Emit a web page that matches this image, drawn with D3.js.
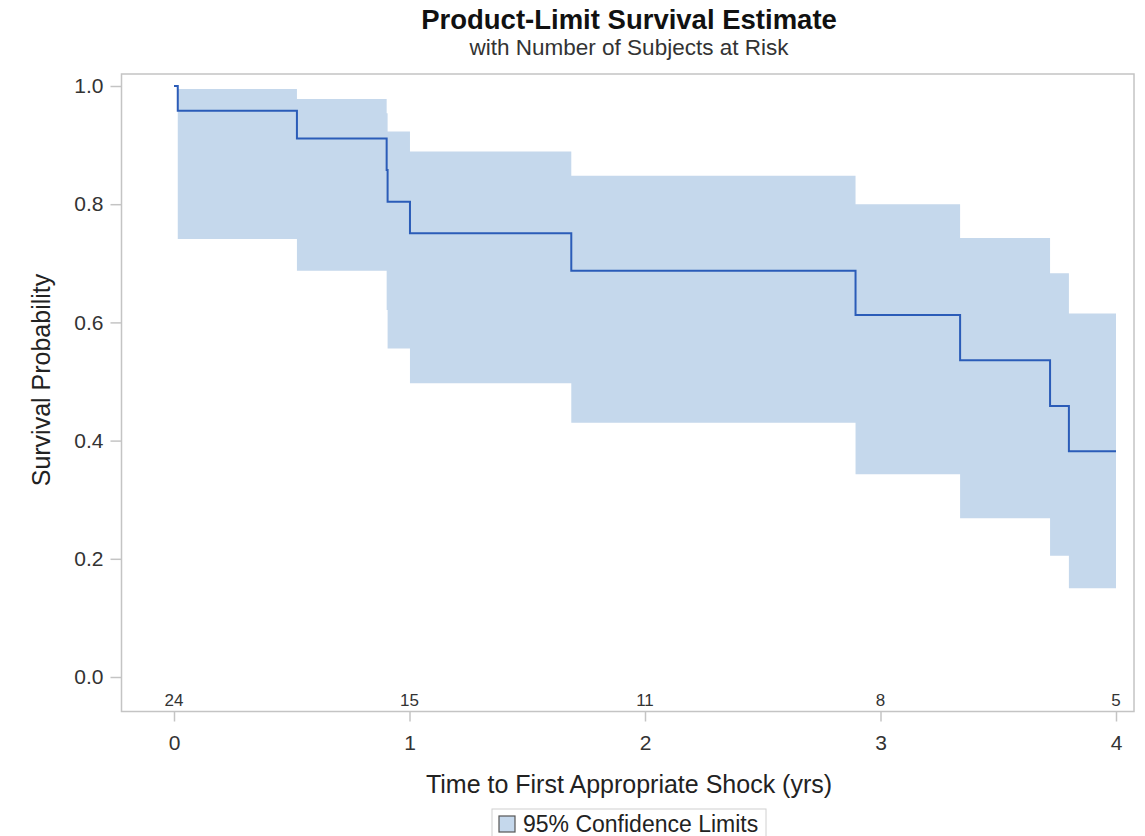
<!DOCTYPE html>
<html>
<head>
<meta charset="utf-8">
<script src="https://cdn.jsdelivr.net/npm/d3@7"></script>
<style>
  html, body { margin: 0; padding: 0; background: #fff; }
  svg { display: block; font-family: "Liberation Sans", Arial, sans-serif; }
</style>
</head>
<body>
<div id="chart"></div>
<script>
// Kaplan-Meier steps
const times = [0, 0.016, 0.522, 0.903, 0.907, 1.002, 1.687, 2.894, 3.338, 3.720, 3.800, 4.0];
const survival = [1.0, 0.958, 0.911, 0.858, 0.804, 0.751, 0.6875, 0.6125, 0.536, 0.4585, 0.382, 0.382];
const upperCL = [null, 0.995, 0.978, 0.954, 0.923, 0.889, 0.848, 0.800, 0.743, 0.683, 0.615, 0.615];
const lowerCL = [null, 0.741, 0.6875, 0.621, 0.556, 0.497, 0.430, 0.343, 0.2685, 0.205, 0.150, 0.150];

const atRiskTimes = [0, 1, 2, 3, 4];
const atRiskCounts = [24, 15, 11, 8, 5];

const xTickValues = [0, 1, 2, 3, 4];
const yTickValues = [0, 0.2, 0.4, 0.6, 0.8, 1.0];

const title = "Product-Limit Survival Estimate";
const subtitle = "with Number of Subjects at Risk";
const xLabel = "Time to First Appropriate Shock (yrs)";
const yLabel = "Survival Probability";
const legendLabel = "95% Confidence Limits";

const width = 1145;
const height = 836;
const frame = { left: 121.5, right: 1134, top: 74, bottom: 711.5 };

const bandColor = "#c5d8ec";
const lineColor = "#2b5cb8";
const frameColor = "#c4c4c4";
const textColor = "#333";

const rows = times.map((t, i) => ({ t, s: survival[i], hi: upperCL[i], lo: lowerCL[i] }));

const xScale = d3.scaleLinear().domain([0, 4]).range([174, 1116]);
const yScale = d3.scaleLinear().domain([0, 1]).range([677, 86]);

const svg = d3.select("#chart")
  .append("svg")
  .attr("width", width)
  .attr("height", height);

// confidence band
const area = d3.area()
  .defined((d) => d.hi !== null && d.lo !== null)
  .x((d) => xScale(d.t))
  .y0((d) => yScale(d.lo))
  .y1((d) => yScale(d.hi))
  .curve(d3.curveStepAfter);

svg.append("path")
  .datum(rows)
  .attr("fill", bandColor)
  .attr("stroke", "none")
  .attr("d", area);

// survival curve
const line = d3.line()
  .x((d) => xScale(d.t))
  .y((d) => yScale(d.s))
  .curve(d3.curveStepAfter);

svg.append("path")
  .datum(rows)
  .attr("fill", "none")
  .attr("stroke", lineColor)
  .attr("stroke-width", 2)
  .attr("d", line);

// frame
svg.append("rect")
  .attr("x", frame.left)
  .attr("y", frame.top)
  .attr("width", frame.right - frame.left)
  .attr("height", frame.bottom - frame.top)
  .attr("fill", "none")
  .attr("stroke", frameColor)
  .attr("stroke-width", 1.5);

// x axis
const xAxis = d3.axisBottom(xScale)
  .tickValues(xTickValues)
  .tickFormat(d3.format("d"))
  .tickSize(10)
  .tickPadding(14);

const xAxisG = svg.append("g")
  .attr("transform", `translate(0, ${frame.bottom})`)
  .call(xAxis);
xAxisG.select(".domain").remove();
xAxisG.selectAll(".tick line").attr("stroke", frameColor).attr("stroke-width", 1.5);
xAxisG.selectAll(".tick text")
  .attr("fill", textColor)
  .style("font-size", "21px")
  .style("font-family", "Liberation Sans, Arial, sans-serif");

// y axis
const yAxis = d3.axisLeft(yScale)
  .tickValues(yTickValues)
  .tickFormat(d3.format(".1f"))
  .tickSize(11)
  .tickPadding(7);

const yAxisG = svg.append("g")
  .attr("transform", `translate(${frame.left}, 0)`)
  .call(yAxis);
yAxisG.select(".domain").remove();
yAxisG.selectAll(".tick line").attr("stroke", frameColor).attr("stroke-width", 1.5);
yAxisG.selectAll(".tick text")
  .attr("fill", textColor)
  .style("font-size", "21px")
  .style("font-family", "Liberation Sans, Arial, sans-serif");

// numbers at risk
svg.append("g")
  .selectAll("text")
  .data(atRiskTimes)
  .join("text")
  .attr("x", (d) => xScale(d))
  .attr("y", 706)
  .attr("text-anchor", "middle")
  .attr("fill", textColor)
  .style("font-size", "17px")
  .text((d, i) => atRiskCounts[i]);

// titles
svg.append("text")
  .attr("x", 629)
  .attr("y", 29)
  .attr("text-anchor", "middle")
  .attr("fill", "#111")
  .style("font-size", "27.5px")
  .style("font-weight", "bold")
  .text(title);

svg.append("text")
  .attr("x", 629)
  .attr("y", 55)
  .attr("text-anchor", "middle")
  .attr("fill", textColor)
  .style("font-size", "22.5px")
  .text(subtitle);

// axis labels
svg.append("text")
  .attr("x", 629)
  .attr("y", 793)
  .attr("text-anchor", "middle")
  .attr("fill", "#222")
  .style("font-size", "25px")
  .text(xLabel);

svg.append("text")
  .attr("transform", "rotate(-90)")
  .attr("x", -380)
  .attr("y", 50)
  .attr("text-anchor", "middle")
  .attr("fill", "#222")
  .style("font-size", "25px")
  .text(yLabel);

// legend
const legend = svg.append("g").attr("transform", "translate(492, 809)");
legend.append("rect")
  .attr("x", 0)
  .attr("y", 0)
  .attr("width", 274)
  .attr("height", 32)
  .attr("fill", "#fff")
  .attr("stroke", "#d0d0d0");
legend.append("rect")
  .attr("x", 7)
  .attr("y", 7)
  .attr("width", 16)
  .attr("height", 16)
  .attr("fill", bandColor)
  .attr("stroke", "#555")
  .attr("stroke-width", 1.2);
legend.append("text")
  .attr("x", 31)
  .attr("y", 23)
  .attr("fill", "#222")
  .style("font-size", "23px")
  .text(legendLabel);
</script>
</body>
</html>
